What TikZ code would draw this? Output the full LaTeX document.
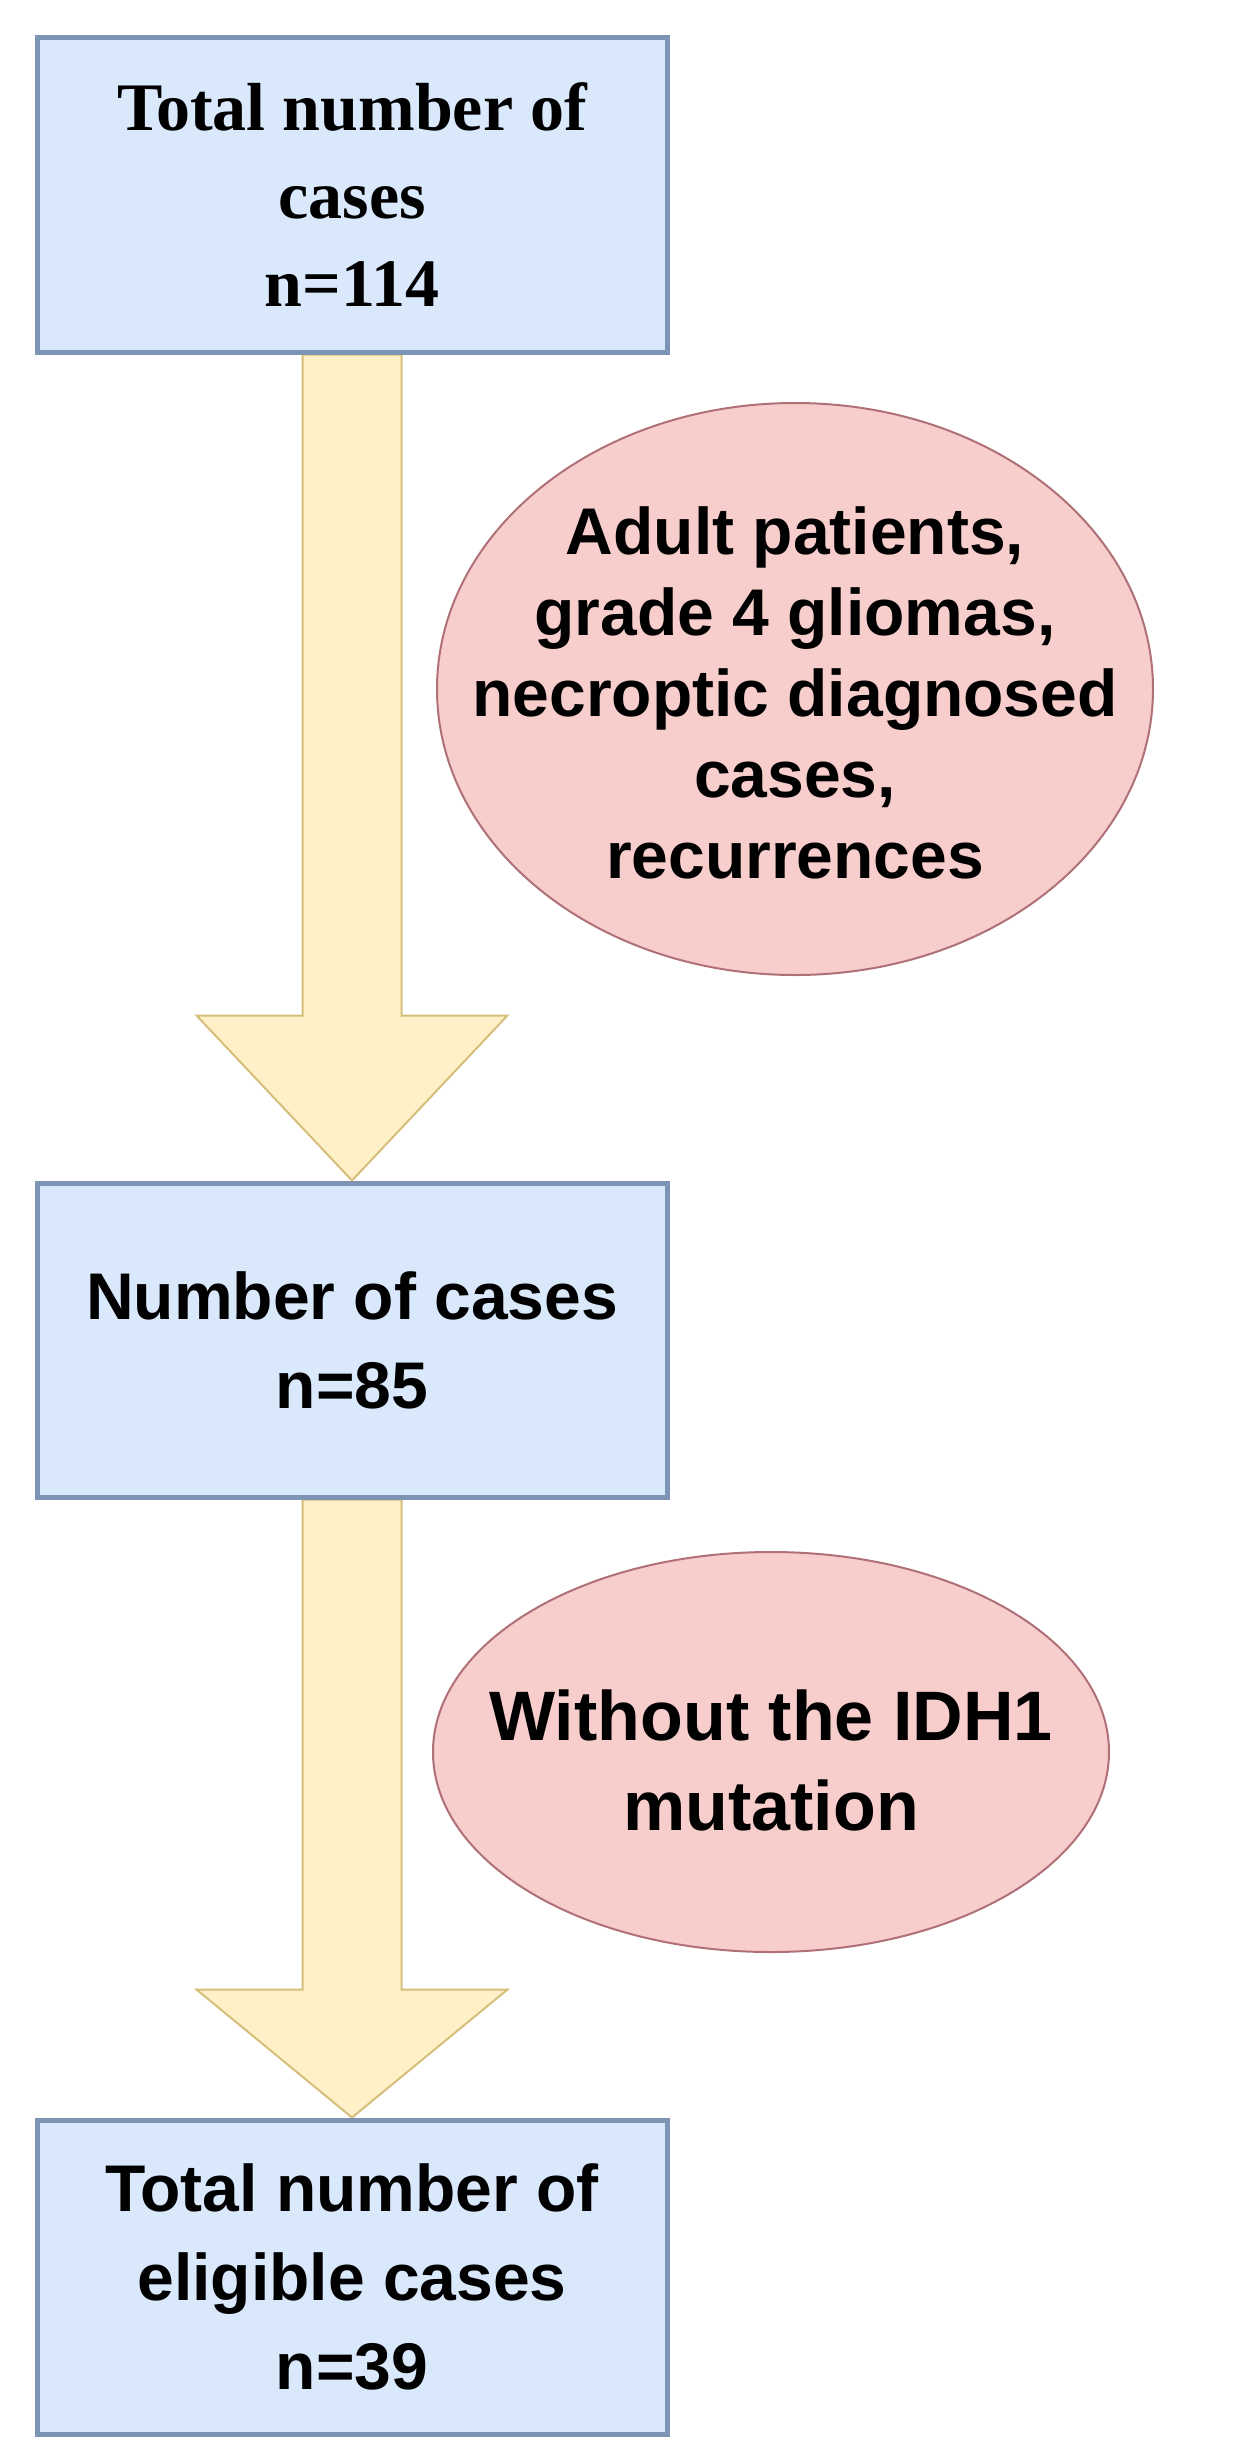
\documentclass[tikz,border=0pt]{standalone}
\usepackage{fontspec}
\setmainfont{Liberation Serif}
\setsansfont{Liberation Sans}
\usetikzlibrary{shapes.geometric,calc,backgrounds}
\definecolor{boxfill}{HTML}{DAE8FC}
\definecolor{boxline}{HTML}{7E94B4}
\definecolor{arrfill}{HTML}{FFF0C8}
\definecolor{arrline}{HTML}{D6BE7A}
\definecolor{elfill}{HTML}{F8CECC}
\definecolor{elline}{HTML}{B07078}
\begin{document}
\begin{tikzpicture}[x=0.5pt,y=-0.5pt,
  stepbox/.style={rectangle, draw=boxline, fill=boxfill, line width=2.5pt,
    minimum width=315pt, minimum height=157pt, inner sep=0pt, align=center},
  serifbox/.style={stepbox, font=\bfseries\fontsize{34}{44}\selectfont},
  sansbox/.style={stepbox, font=\sffamily\bfseries\fontsize{33}{44.5}\selectfont},
  excl/.style={ellipse, draw=elline, fill=elfill, line width=1pt, inner sep=0pt},
  excltext/.style={inner sep=0pt, align=center},
  bigarrow/.style={draw=arrline, fill=arrfill, line width=1pt, line join=miter}
]
\useasboundingbox (0,0) rectangle (1248,2462);

\node[serifbox] (b1) at (352,195) {Total number of\\cases\\n=114};
\node[sansbox] (b2) at (352,1340) {Number of cases\\n=85};
\node[sansbox] (b3) at (352,2277) {Total number of\\eligible cases\\n=39};

\node[excl, minimum width=358pt, minimum height=286pt] (e1) at (795,689) {};
\node[excltext, font=\sffamily\bfseries\fontsize{33}{40.5}\selectfont] (t1) at ($(e1.center)+(0,4)$)
  {Adult patients,\\grade 4 gliomas,\\necroptic diagnosed\\cases,\\recurrences};
\node[excl, minimum width=338pt, minimum height=200pt] (e2) at (771,1752) {};
\node[excltext, font=\sffamily\bfseries\fontsize{35}{45}\selectfont] (t2) at ($(e2.center)+(0,8)$)
  {Without the IDH1\\mutation};

\begin{scope}[on background layer]
\draw[bigarrow] ($(b1.south)+(-49.5,0)$) -- ($(b2.north)+(-49.5,-165)$)
  -- ($(b2.north)+(-155.5,-165)$) -- (b2.north)
  -- ($(b2.north)+(155.5,-165)$) -- ($(b2.north)+(49.5,-165)$)
  -- ($(b1.south)+(49.5,0)$) -- cycle;
\draw[bigarrow] ($(b2.south)+(-49.5,0)$) -- ($(b3.north)+(-49.5,-128)$)
  -- ($(b3.north)+(-155.5,-128)$) -- (b3.north)
  -- ($(b3.north)+(155.5,-128)$) -- ($(b3.north)+(49.5,-128)$)
  -- ($(b2.south)+(49.5,0)$) -- cycle;
\end{scope}
\end{tikzpicture}
\end{document}
